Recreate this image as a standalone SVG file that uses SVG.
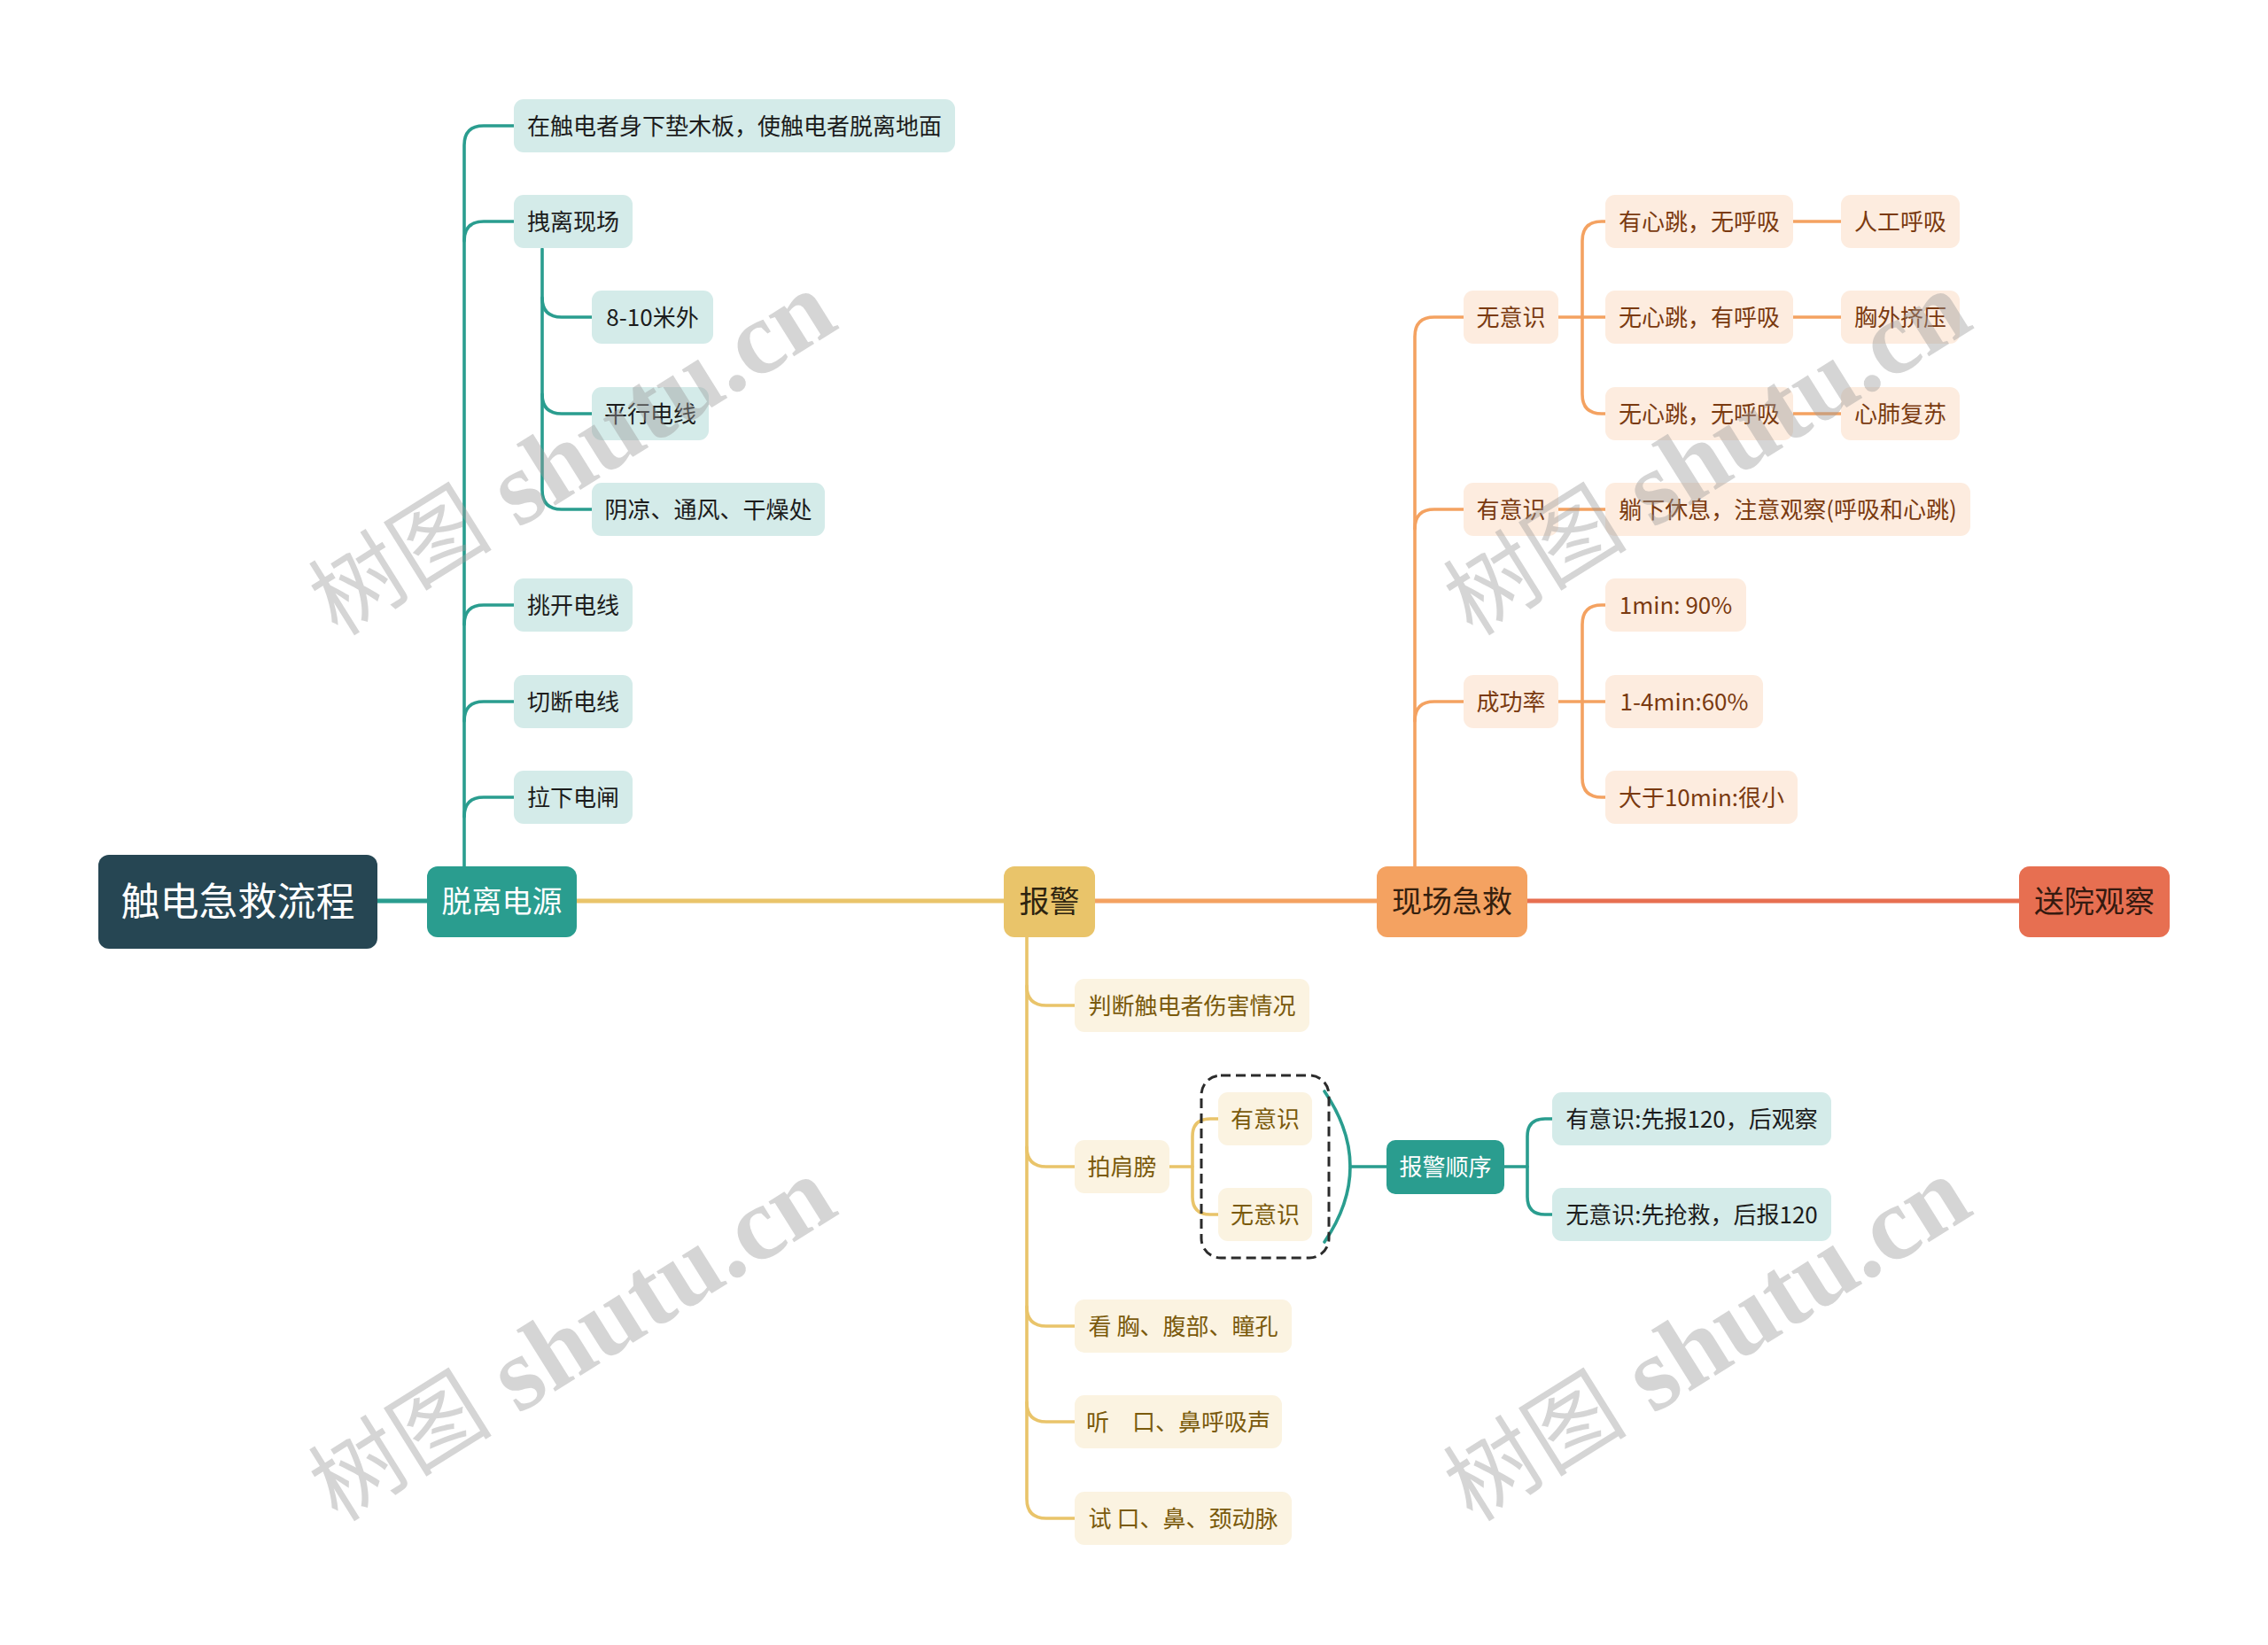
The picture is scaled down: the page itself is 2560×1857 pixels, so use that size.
<svg xmlns="http://www.w3.org/2000/svg" width="2560" height="1857" viewBox="0 0 2560 1857">
<style>
text{font-family:"Noto Sans CJK SC","Noto Sans",sans-serif;text-anchor:middle}
.t26{font-size:26px}
.main{font-size:34px}
.tc rect{fill:#d4ebe9}.tc text{fill:#1c1c1c}
.yc rect{fill:#fbf3e1}.yc text{fill:#7a5a0c}
.oc rect{fill:#fdecdf}.oc text{fill:#7a3a10}
.ln{fill:none;stroke-linecap:round;stroke-linejoin:round}
.lt{stroke:#2a9d8f}.ly{stroke:#e9c46a}.lo{stroke:#f4a261}.lr{stroke:#e76f51}
.w6{stroke-width:5}.w4{stroke-width:3.6}
.wm{font-family:"Liberation Serif","Noto Sans CJK SC",serif;font-size:118px;fill:#9a9a9a;fill-opacity:0.42}
.wm .cj{font-size:104px}
.wm .la{font-weight:bold}
</style>
<rect width="2560" height="1857" fill="#ffffff"/>

<g id="connectors">
  <path class="ln lt w6" d="M426,1017 H482"/>
  <path class="ln ly w6" d="M651,1017 H1133"/>
  <path class="ln lo w6" d="M1236,1017 H1554"/>
  <path class="ln lr w6" d="M1724,1017 H2279"/>
  <path class="ln lt w4" d="M524,978 V164 Q524,142 546,142 H580"/>
  <path class="ln lt w4" d="M524,272 Q524,250 546,250 H580"/>
  <path class="ln lt w4" d="M524,705 Q524,683 546,683 H580"/>
  <path class="ln lt w4" d="M524,814 Q524,792 546,792 H580"/>
  <path class="ln lt w4" d="M524,922 Q524,900 546,900 H580"/>
  <path class="ln lt w4" d="M612,281 V553 Q612,575 634,575 H668"/>
  <path class="ln lt w4" d="M612,336 Q612,358 634,358 H668"/>
  <path class="ln lt w4" d="M612,445 Q612,467 634,467 H668"/>
  <path class="ln ly w4" d="M1159,1058 V1692 Q1159,1714 1181,1714 H1213"/>
  <path class="ln ly w4" d="M1159,1113 Q1159,1135 1181,1135 H1213"/>
  <path class="ln ly w4" d="M1159,1295 Q1159,1317 1181,1317 H1213"/>
  <path class="ln ly w4" d="M1159,1475 Q1159,1497 1181,1497 H1213"/>
  <path class="ln ly w4" d="M1159,1583 Q1159,1605 1181,1605 H1213"/>
  <path class="ln ly w4" d="M1320,1317 H1346"/>
  <path class="ln ly w4" d="M1375,1263 H1366 Q1346,1263 1346,1283 V1351 Q1346,1371 1366,1371 H1375"/>
  <path class="ln lt w4" d="M1495,1232 Q1553,1317 1495,1402"/>
  <path class="ln lt w4" d="M1524,1317 H1565"/>
  <path class="ln lt w4" d="M1698,1317 H1724"/>
  <path class="ln lt w4" d="M1752,1263 H1744 Q1724,1263 1724,1283 V1351 Q1724,1371 1744,1371 H1752"/>
  <path class="ln lo w4" d="M1597,978 V380 Q1597,358 1619,358 H1652"/>
  <path class="ln lo w4" d="M1597,597 Q1597,575 1619,575 H1652"/>
  <path class="ln lo w4" d="M1597,814 Q1597,792 1619,792 H1652"/>
  <path class="ln lo w4" d="M1759,358 H1812"/>
  <path class="ln lo w4" d="M1812,250 H1808 Q1786,250 1786,272 V445 Q1786,467 1808,467 H1812"/>
  <path class="ln lo w4" d="M2024,250 H2078"/>
  <path class="ln lo w4" d="M2024,358 H2078"/>
  <path class="ln lo w4" d="M2024,467 H2078"/>
  <path class="ln lo w4" d="M1759,575 H1812"/>
  <path class="ln lo w4" d="M1759,792 H1812"/>
  <path class="ln lo w4" d="M1812,683 H1808 Q1786,683 1786,705 V878 Q1786,900 1808,900 H1812"/>
</g>

<g id="root">
  <rect x="111" y="965" width="315" height="106" rx="12" fill="#264653"/>
  <text x="268.5" y="1034" font-size="44" fill="#ffffff">触电急救流程</text>
</g>
<g id="n-tuoli">
  <rect x="482" y="978" width="169" height="80" rx="12" fill="#2a9d8f"/>
  <text class="main" x="566.5" y="1030" fill="#ffffff">脱离电源</text>
</g>
<g id="n-baojing">
  <rect x="1133" y="978" width="103" height="80" rx="12" fill="#e9c46a"/>
  <text class="main" x="1184.5" y="1030" fill="#2e2410">报警</text>
</g>
<g id="n-xianchang">
  <rect x="1554" y="978" width="170" height="80" rx="12" fill="#f4a261"/>
  <text class="main" x="1639" y="1030" fill="#35200e">现场急救</text>
</g>
<g id="n-songyuan">
  <rect x="2279" y="978" width="170" height="80" rx="12" fill="#e76f51"/>
  <text class="main" x="2364" y="1030" fill="#351a10">送院观察</text>
</g>

<g id="t1" class="tc"><rect x="580" y="112" width="498" height="60" rx="11"/><text class="t26" x="829" y="151.5">在触电者身下垫木板，使触电者脱离地面</text></g>
<g id="t2" class="tc"><rect x="580" y="220" width="134" height="60" rx="11"/><text class="t26" x="647" y="259.5">拽离现场</text></g>
<g id="t21" class="tc"><rect x="668" y="328" width="137" height="60" rx="11"/><text class="t26" x="736.5" y="367.5">8-10米外</text></g>
<g id="t22" class="tc"><rect x="668" y="437" width="132" height="60" rx="11"/><text class="t26" x="734" y="476.5">平行电线</text></g>
<g id="t23" class="tc"><rect x="668" y="545" width="263" height="60" rx="11"/><text class="t26" x="799.5" y="584.5">阴凉、通风、干燥处</text></g>
<g id="t3" class="tc"><rect x="580" y="653" width="134" height="60" rx="11"/><text class="t26" x="647" y="692.5">挑开电线</text></g>
<g id="t4" class="tc"><rect x="580" y="762" width="134" height="60" rx="11"/><text class="t26" x="647" y="801.5">切断电线</text></g>
<g id="t5" class="tc"><rect x="580" y="870" width="134" height="60" rx="11"/><text class="t26" x="647" y="909.5">拉下电闸</text></g>

<g id="y1" class="yc"><rect x="1213" y="1105" width="265" height="60" rx="11"/><text class="t26" x="1345.5" y="1144.5">判断触电者伤害情况</text></g>
<g id="y2" class="yc"><rect x="1213" y="1287" width="107" height="60" rx="11"/><text class="t26" x="1266.5" y="1326.5">拍肩膀</text></g>
<g id="y21" class="yc"><rect x="1375" y="1233" width="106" height="60" rx="11"/><text class="t26" x="1428" y="1272.5">有意识</text></g>
<g id="y22" class="yc"><rect x="1375" y="1341" width="106" height="60" rx="11"/><text class="t26" x="1428" y="1380.5">无意识</text></g>
<g id="y3" class="yc"><rect x="1213" y="1467" width="245" height="60" rx="11"/><text class="t26" x="1335.5" y="1506.5">看 胸、腹部、瞳孔</text></g>
<g id="y4" class="yc"><rect x="1213" y="1575" width="234" height="60" rx="11"/><text class="t26" x="1330" y="1614.5">听　口、鼻呼吸声</text></g>
<g id="y5" class="yc"><rect x="1213" y="1684" width="245" height="60" rx="11"/><text class="t26" x="1335.5" y="1723.5">试 口、鼻、颈动脉</text></g>

<g id="summary-box">
  <rect x="1356" y="1214" width="144" height="206" rx="22" fill="none" stroke="#2b2b2b" stroke-width="3" stroke-dasharray="11 6"/>
</g>
<g id="s-order">
  <rect x="1565" y="1287" width="133" height="61" rx="10" fill="#2a9d8f"/>
  <text class="t26" x="1631.5" y="1327" fill="#ffffff">报警顺序</text>
</g>
<g id="s1" class="tc"><rect x="1752" y="1233" width="315" height="60" rx="11"/><text class="t26" x="1909.5" y="1272.5">有意识:先报120，后观察</text></g>
<g id="s2" class="tc"><rect x="1752" y="1341" width="315" height="60" rx="11"/><text class="t26" x="1909.5" y="1380.5">无意识:先抢救，后报120</text></g>

<g id="o1" class="oc"><rect x="1652" y="328" width="107" height="60" rx="11"/><text class="t26" x="1705.5" y="367.5">无意识</text></g>
<g id="o11" class="oc"><rect x="1812" y="220" width="212" height="60" rx="11"/><text class="t26" x="1918" y="259.5">有心跳，无呼吸</text></g>
<g id="o12" class="oc"><rect x="1812" y="328" width="212" height="60" rx="11"/><text class="t26" x="1918" y="367.5">无心跳，有呼吸</text></g>
<g id="o13" class="oc"><rect x="1812" y="437" width="212" height="60" rx="11"/><text class="t26" x="1918" y="476.5">无心跳，无呼吸</text></g>
<g id="o111" class="oc"><rect x="2078" y="220" width="134" height="60" rx="11"/><text class="t26" x="2145" y="259.5">人工呼吸</text></g>
<g id="o121" class="oc"><rect x="2078" y="328" width="134" height="60" rx="11"/><text class="t26" x="2145" y="367.5">胸外挤压</text></g>
<g id="o131" class="oc"><rect x="2078" y="437" width="134" height="60" rx="11"/><text class="t26" x="2145" y="476.5">心肺复苏</text></g>
<g id="o2" class="oc"><rect x="1652" y="545" width="107" height="60" rx="11"/><text class="t26" x="1705.5" y="584.5">有意识</text></g>
<g id="o21" class="oc"><rect x="1812" y="545" width="412" height="60" rx="11"/><text class="t26" x="2018" y="584.5">躺下休息，注意观察(呼吸和心跳)</text></g>
<g id="o3" class="oc"><rect x="1652" y="762" width="107" height="60" rx="11"/><text class="t26" x="1705.5" y="801.5">成功率</text></g>
<g id="o31" class="oc"><rect x="1812" y="653" width="159" height="60" rx="11"/><text class="t26" x="1891.5" y="692.5">1min: 90%</text></g>
<g id="o32" class="oc"><rect x="1812" y="762" width="178" height="60" rx="11"/><text class="t26" x="1901" y="801.5">1-4min:60%</text></g>
<g id="o33" class="oc"><rect x="1812" y="870" width="217" height="60" rx="11"/><text class="t26" x="1920.5" y="909.5">大于10min:很小</text></g>

<g id="watermarks">
  <text class="wm" transform="translate(645,512) rotate(-32)" dominant-baseline="central"><tspan class="cj">树图</tspan><tspan class="la"> shutu.cn</tspan></text>
  <text class="wm" transform="translate(1926,512) rotate(-32)" dominant-baseline="central"><tspan class="cj">树图</tspan><tspan class="la"> shutu.cn</tspan></text>
  <text class="wm" transform="translate(645,1512) rotate(-32)" dominant-baseline="central"><tspan class="cj">树图</tspan><tspan class="la"> shutu.cn</tspan></text>
  <text class="wm" transform="translate(1926,1512) rotate(-32)" dominant-baseline="central"><tspan class="cj">树图</tspan><tspan class="la"> shutu.cn</tspan></text>
</g>
</svg>
